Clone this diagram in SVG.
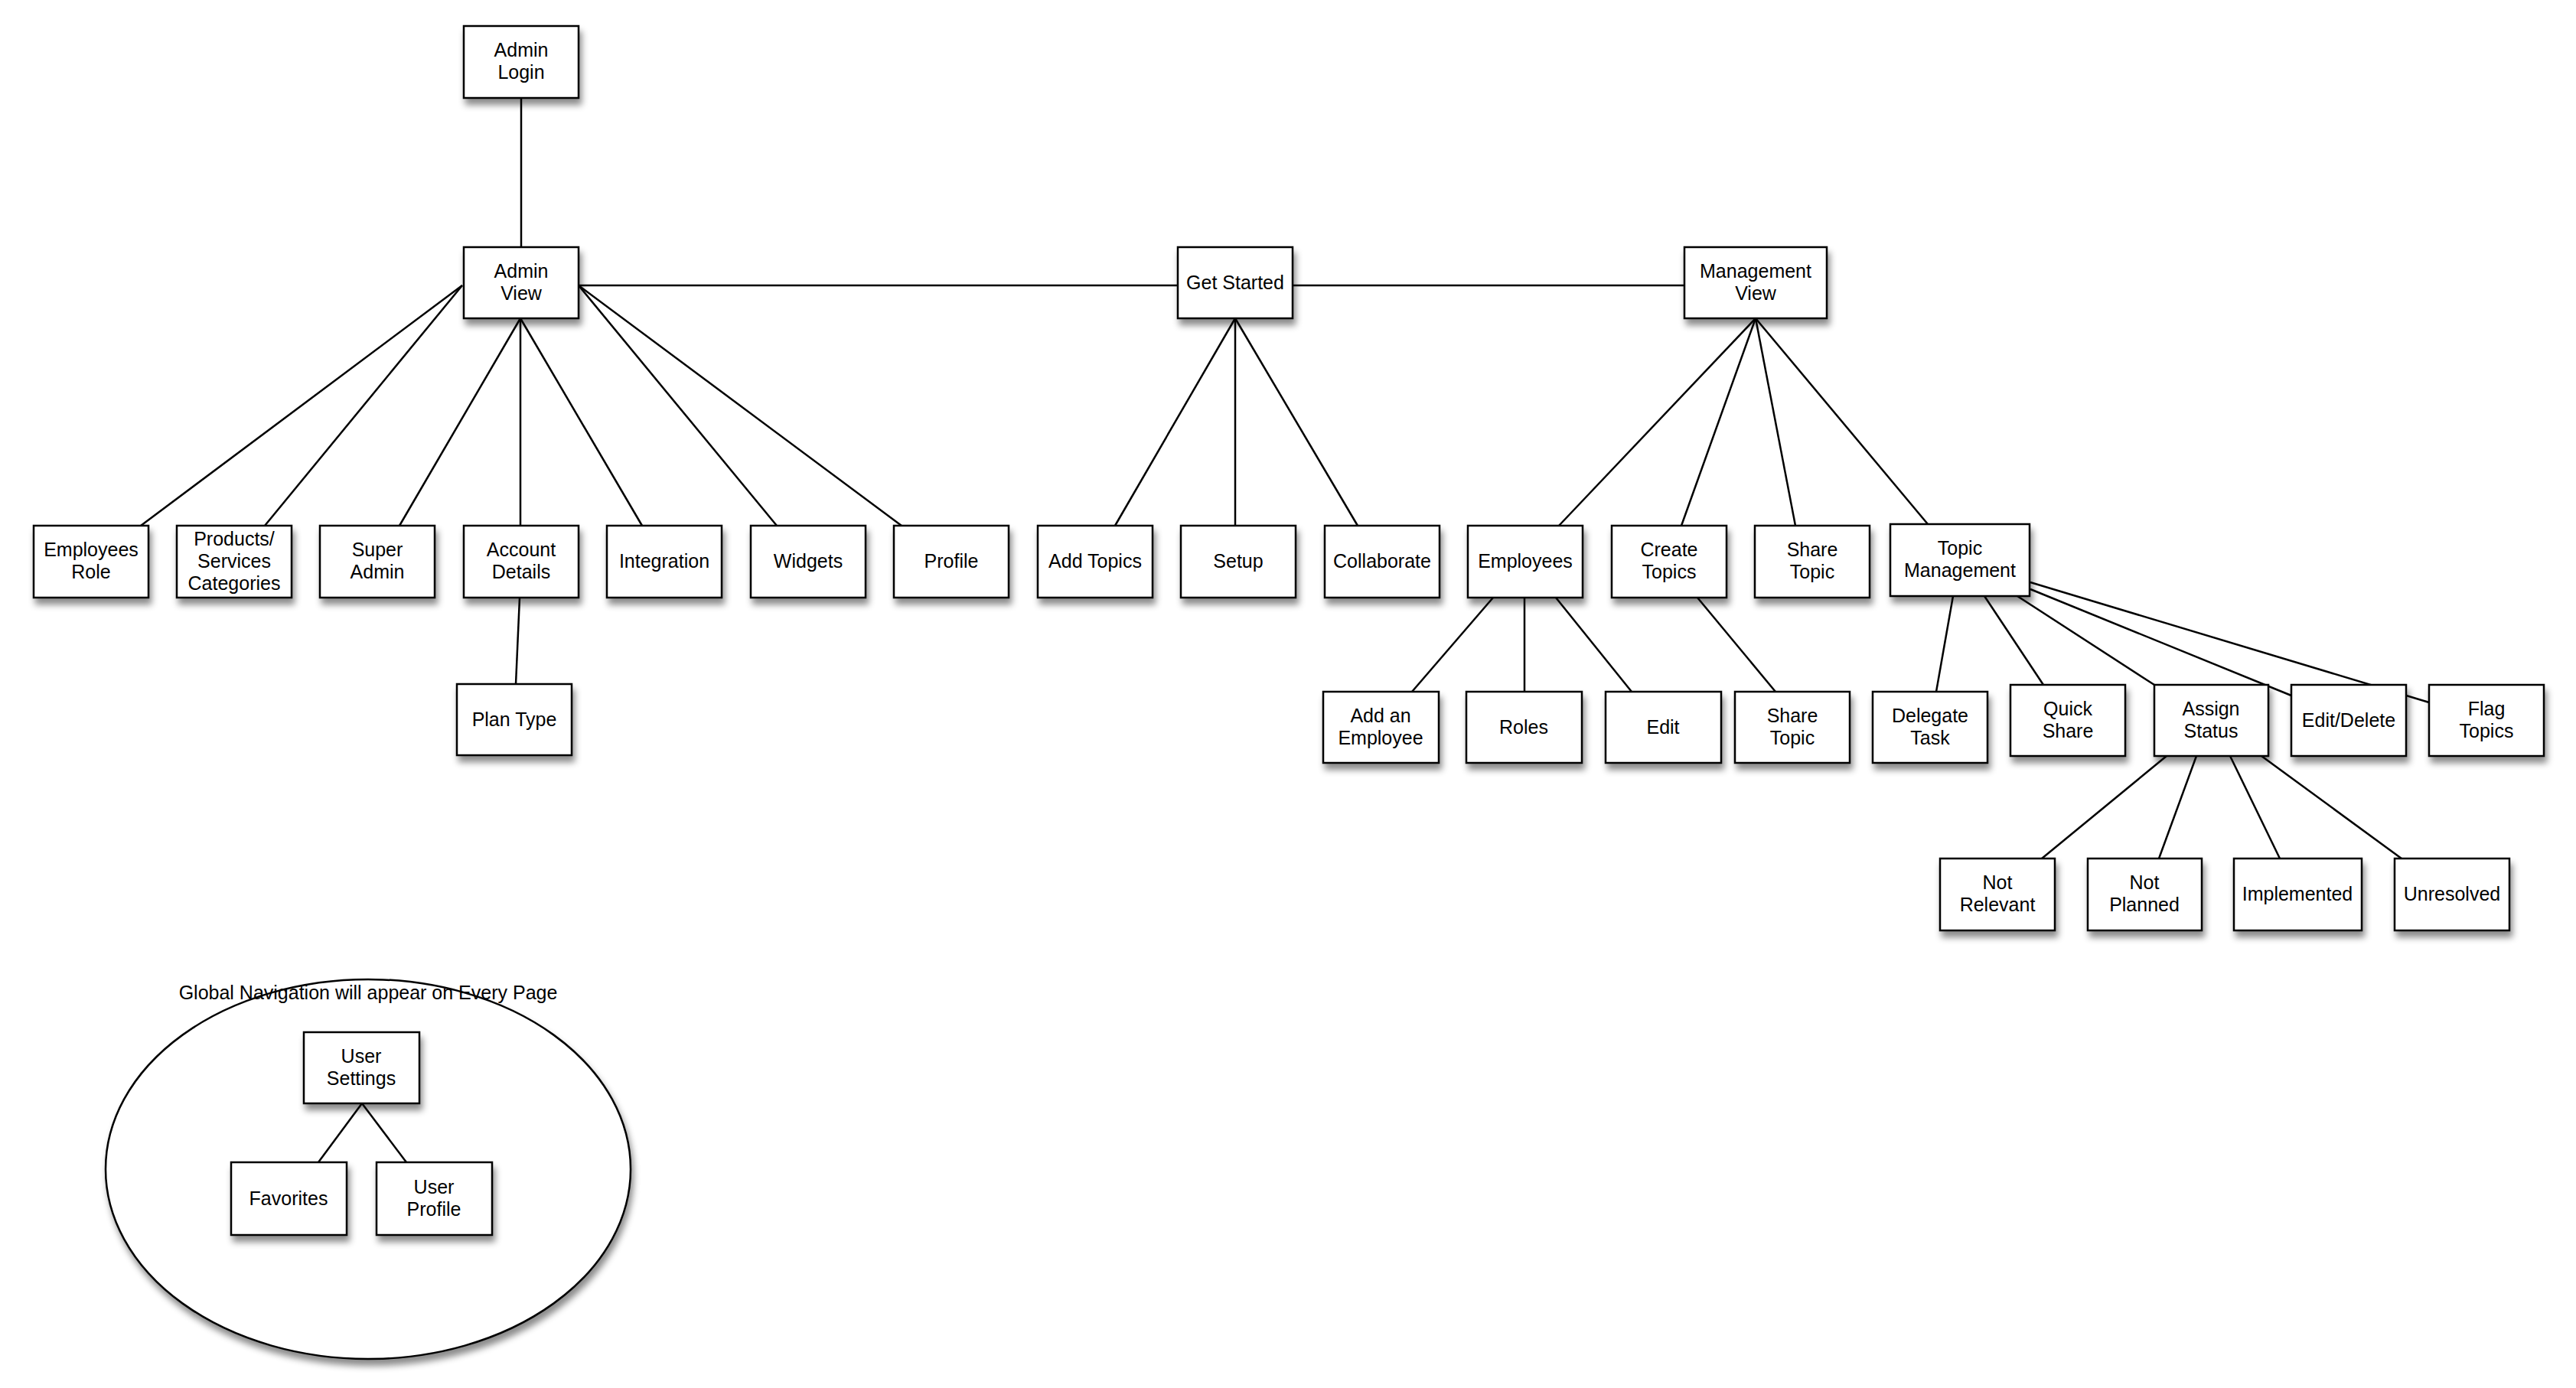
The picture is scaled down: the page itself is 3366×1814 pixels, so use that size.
<svg xmlns="http://www.w3.org/2000/svg" width="3366" height="1814" viewBox="0 0 3366 1814">
<style>
.b{fill:#fff;stroke:#000;stroke-width:2.5;filter:url(#sh)}
.t{font-family:"Liberation Sans",Arial,sans-serif;font-size:25px;text-anchor:middle;fill:#000}
.c line{stroke:#000;stroke-width:2.5}
</style>
<defs>
<filter id="sh" x="-20%" y="-20%" width="150%" height="160%"><feDropShadow dx="3" dy="8" stdDeviation="4" flood-color="#000" flood-opacity="0.45"/></filter>
</defs>
<rect width="3366" height="1814" fill="#fff"/>
<ellipse cx="481" cy="1528" rx="343" ry="248" fill="#fff" stroke="#000" stroke-width="2.5" filter="url(#sh)"/>
<g class="c">
<line x1="681" y1="128" x2="681" y2="323"/>
<line x1="756" y1="373" x2="2201" y2="373"/>
<line x1="604" y1="373" x2="184" y2="687"/>
<line x1="604" y1="373" x2="346" y2="687"/>
<line x1="680" y1="416" x2="522" y2="687"/>
<line x1="680" y1="416" x2="680" y2="687"/>
<line x1="680" y1="416" x2="839" y2="687"/>
<line x1="756" y1="373" x2="1015" y2="687"/>
<line x1="756" y1="373" x2="1178" y2="687"/>
<line x1="679" y1="781" x2="674" y2="894"/>
<line x1="1614" y1="416" x2="1457" y2="687"/>
<line x1="1614" y1="416" x2="1614" y2="687"/>
<line x1="1614" y1="416" x2="1774" y2="687"/>
<line x1="2294" y1="416" x2="2037" y2="687"/>
<line x1="2294" y1="416" x2="2197" y2="687"/>
<line x1="2294" y1="416" x2="2346" y2="687"/>
<line x1="2294" y1="416" x2="2519" y2="685"/>
<line x1="1951" y1="781" x2="1845" y2="904"/>
<line x1="1992" y1="781" x2="1992" y2="904"/>
<line x1="2033" y1="781" x2="2132" y2="904"/>
<line x1="2218" y1="781" x2="2320" y2="904"/>
<line x1="2552" y1="779" x2="2530" y2="904"/>
<line x1="2593" y1="779" x2="2670" y2="895"/>
<line x1="2636" y1="779" x2="2815" y2="895"/>
<line x1="2653" y1="770" x2="2994" y2="909"/>
<line x1="2653" y1="761" x2="3174" y2="918"/>
<line x1="2831" y1="988" x2="2668" y2="1122"/>
<line x1="2870" y1="988" x2="2821" y2="1122"/>
<line x1="2914" y1="988" x2="2979" y2="1122"/>
<line x1="2955" y1="988" x2="3138" y2="1122"/>
<line x1="473" y1="1442" x2="416" y2="1519"/>
<line x1="473" y1="1442" x2="531" y2="1519"/>
</g>
<g id="admin-login"><rect class="b" x="606" y="34" width="150" height="94"/><text class="t" x="681" y="74">Admin</text><text class="t" x="681" y="103">Login</text></g>
<g id="admin-view"><rect class="b" x="606" y="323" width="150" height="93"/><text class="t" x="681" y="363">Admin</text><text class="t" x="681" y="392">View</text></g>
<g id="get-started"><rect class="b" x="1539" y="323" width="150" height="93"/><text class="t" x="1614" y="378">Get Started</text></g>
<g id="management-view"><rect class="b" x="2201" y="323" width="186" height="93"/><text class="t" x="2294" y="363">Management</text><text class="t" x="2294" y="392">View</text></g>
<g id="employees-role"><rect class="b" x="44" y="687" width="150" height="94"/><text class="t" x="119" y="727">Employees</text><text class="t" x="119" y="756">Role</text></g>
<g id="products"><rect class="b" x="231" y="687" width="150" height="94"/><text class="t" x="306" y="713">Products/</text><text class="t" x="306" y="742">Services</text><text class="t" x="306" y="771">Categories</text></g>
<g id="super-admin"><rect class="b" x="418" y="687" width="150" height="94"/><text class="t" x="493" y="727">Super</text><text class="t" x="493" y="756">Admin</text></g>
<g id="account-details"><rect class="b" x="606" y="687" width="150" height="94"/><text class="t" x="681" y="727">Account</text><text class="t" x="681" y="756">Details</text></g>
<g id="integration"><rect class="b" x="793" y="687" width="150" height="94"/><text class="t" x="868" y="742">Integration</text></g>
<g id="widgets"><rect class="b" x="981" y="687" width="150" height="94"/><text class="t" x="1056" y="742">Widgets</text></g>
<g id="profile"><rect class="b" x="1168" y="687" width="150" height="94"/><text class="t" x="1243" y="742">Profile</text></g>
<g id="add-topics"><rect class="b" x="1356" y="687" width="150" height="94"/><text class="t" x="1431" y="742">Add Topics</text></g>
<g id="setup"><rect class="b" x="1543" y="687" width="150" height="94"/><text class="t" x="1618" y="742">Setup</text></g>
<g id="collaborate"><rect class="b" x="1731" y="687" width="150" height="94"/><text class="t" x="1806" y="742">Collaborate</text></g>
<g id="employees"><rect class="b" x="1918" y="687" width="150" height="94"/><text class="t" x="1993" y="742">Employees</text></g>
<g id="create-topics"><rect class="b" x="2106" y="687" width="150" height="94"/><text class="t" x="2181" y="727">Create</text><text class="t" x="2181" y="756">Topics</text></g>
<g id="share-topic-1"><rect class="b" x="2293" y="687" width="150" height="94"/><text class="t" x="2368" y="727">Share</text><text class="t" x="2368" y="756">Topic</text></g>
<g id="topic-management"><rect class="b" x="2470" y="685" width="182" height="94"/><text class="t" x="2561" y="725">Topic</text><text class="t" x="2561" y="754">Management</text></g>
<g id="plan-type"><rect class="b" x="597" y="894" width="150" height="93"/><text class="t" x="672" y="949">Plan Type</text></g>
<g id="add-employee"><rect class="b" x="1729" y="904" width="151" height="93"/><text class="t" x="1804" y="944">Add an</text><text class="t" x="1804" y="973">Employee</text></g>
<g id="roles"><rect class="b" x="1916" y="904" width="151" height="93"/><text class="t" x="1991" y="959">Roles</text></g>
<g id="edit"><rect class="b" x="2098" y="904" width="151" height="93"/><text class="t" x="2173" y="959">Edit</text></g>
<g id="share-topic-2"><rect class="b" x="2267" y="904" width="150" height="93"/><text class="t" x="2342" y="944">Share</text><text class="t" x="2342" y="973">Topic</text></g>
<g id="delegate-task"><rect class="b" x="2447" y="904" width="150" height="93"/><text class="t" x="2522" y="944">Delegate</text><text class="t" x="2522" y="973">Task</text></g>
<g id="quick-share"><rect class="b" x="2627" y="895" width="150" height="93"/><text class="t" x="2702" y="935">Quick</text><text class="t" x="2702" y="964">Share</text></g>
<g id="assign-status"><rect class="b" x="2815" y="895" width="149" height="93"/><text class="t" x="2889" y="935">Assign</text><text class="t" x="2889" y="964">Status</text></g>
<g id="edit-delete"><rect class="b" x="2994" y="895" width="150" height="93"/><text class="t" x="3069" y="950">Edit/Delete</text></g>
<g id="flag-topics"><rect class="b" x="3174" y="895" width="150" height="93"/><text class="t" x="3249" y="935">Flag</text><text class="t" x="3249" y="964">Topics</text></g>
<g id="not-relevant"><rect class="b" x="2535" y="1122" width="150" height="94"/><text class="t" x="2610" y="1162">Not</text><text class="t" x="2610" y="1191">Relevant</text></g>
<g id="not-planned"><rect class="b" x="2728" y="1122" width="149" height="94"/><text class="t" x="2802" y="1162">Not</text><text class="t" x="2802" y="1191">Planned</text></g>
<g id="implemented"><rect class="b" x="2919" y="1122" width="167" height="94"/><text class="t" x="3002" y="1177">Implemented</text></g>
<g id="unresolved"><rect class="b" x="3129" y="1122" width="150" height="94"/><text class="t" x="3204" y="1177">Unresolved</text></g>
<g id="global-nav"><text class="t" x="481" y="1306">Global Navigation will appear on Every Page</text></g>
<g id="user-settings"><rect class="b" x="397" y="1349" width="151" height="93"/><text class="t" x="472" y="1389">User</text><text class="t" x="472" y="1418">Settings</text></g>
<g id="favorites"><rect class="b" x="302" y="1519" width="151" height="95"/><text class="t" x="377" y="1575">Favorites</text></g>
<g id="user-profile"><rect class="b" x="492" y="1519" width="151" height="95"/><text class="t" x="567" y="1560">User</text><text class="t" x="567" y="1589">Profile</text></g>
</svg>
